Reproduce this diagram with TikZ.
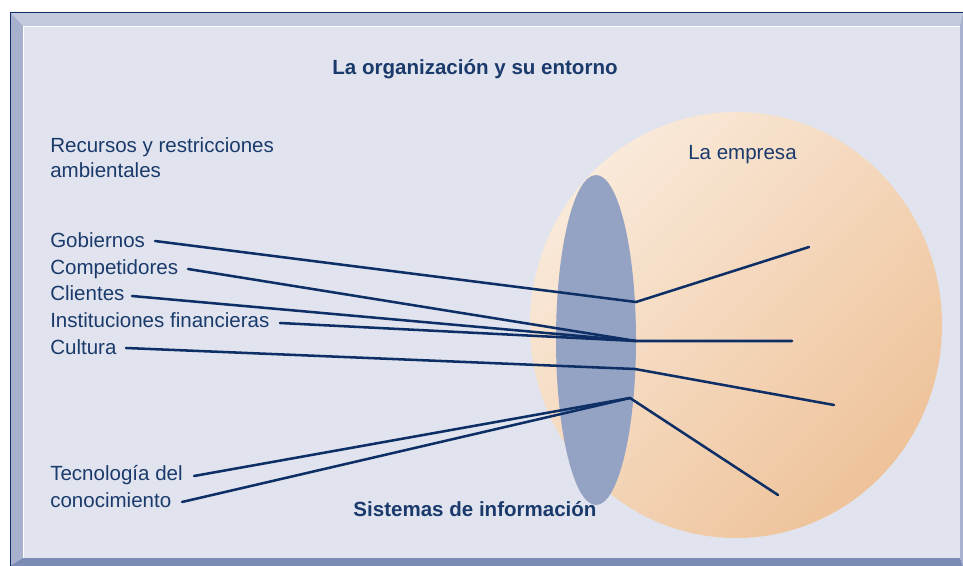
\documentclass[tikz,border=0pt]{standalone}
\usepackage{fontspec}
\setmainfont{Liberation Sans}
\usetikzlibrary{calc,shadings}
\definecolor{navy}{HTML}{0D2F66}
\definecolor{txt}{HTML}{1A3A6C}
\definecolor{inner}{HTML}{E1E4EE}
\definecolor{topband}{HTML}{C4CADD}
\definecolor{leftband}{HTML}{A7B0CC}
\definecolor{botband}{HTML}{7A8CB5}
\definecolor{sphlight}{HTML}{FCF2E7}
\definecolor{sphmid}{HTML}{F4D6BA}
\definecolor{sphdark}{HTML}{ECBA8C}
\definecolor{lens}{HTML}{94A3C3}
\tikzset{
  lbl/.style={anchor=base west,inner sep=0pt,text=txt,font=\fontsize{15.4}{18}\selectfont},
  ttl/.style={anchor=base,inner sep=0pt,text=txt,font=\fontsize{15.4}{18}\selectfont\bfseries},
  conn/.style={draw=navy,line width=1.9pt,line cap=round,line join=miter}
}
\begin{document}
\begin{tikzpicture}[x=0.75pt,y=-0.75pt]
\useasboundingbox (0,0) rectangle (963,566);
% frame
\fill[white] (0,0) rectangle (963,566);
\fill[inner] (10,12) rectangle (963,566);
\fill[topband] (10,12) -- (963,12) -- (960,26) -- (23,26) -- cycle;
\fill[leftband] (10,12) -- (23,26) -- (23,558) -- (10,566) -- cycle;
\fill[botband] (10,566) -- (23,558) -- (960,558) -- (963,566) -- cycle;
\fill[leftband] (963,12) -- (960,26) -- (960,558) -- (963,566) -- cycle;
\draw[white,line width=0.8pt] (23.5,558) -- (23.5,26.5) -- (960,26.5);
\draw[navy,line width=1.2pt] (10.5,566) -- (10.5,12.5) -- (963,12.5);
% sphere
\shade[upper left=sphlight,lower right=sphdark,upper right=sphmid,lower left=sphmid]
  (736,325) ellipse [x radius=206,y radius=213];
% lens
\fill[lens] (596,340) ellipse [x radius=40,y radius=165];
% texts
\node[ttl] (title) at (475,75) {La organización y su entorno};
\node[ttl] (sis) at (475,516) {Sistemas de información};
\node[lbl] (rec1) at (50,153) {Recursos y restricciones};
\node[lbl] (rec2) at (50,178) {ambientales};
\node[lbl] (emp) at (688,160) {La empresa};
\node[lbl] (gob) at (50,248) {Gobiernos};
\node[lbl] (com) at (50,275) {Competidores};
\node[lbl] (cli) at (50,301) {Clientes};
\node[lbl] (ins) at (50,328) {Instituciones financieras};
\node[lbl] (cul) at (50,354) {Cultura};
\node[lbl] (tec) at (50,480) {Tecnología del};
\node[lbl] (con) at (50,507) {conocimiento};
% connector points
\coordinate (sgob) at (155,241);
\coordinate (scom) at (188,269);
\coordinate (scli) at (132,296);
\coordinate (sins) at (280,323);
\coordinate (scul) at (126,348);
\coordinate (stec) at (194,476);
\coordinate (scon) at (182,502);
\coordinate (j1) at (636,302);
\coordinate (j2) at (636,341);
\coordinate (j3) at (635,369);
\coordinate (j4) at (630,398);
\coordinate (e1) at (809,247);
\coordinate (e2) at (792,341);
\coordinate (e3) at (834,405);
\coordinate (e4) at (778,495);
% connectors
\draw[conn] (sgob) -- (j1) -- (e1);
\draw[conn] (scom) -- (j2);
\draw[conn] (scli) -- (j2);
\draw[conn] (sins) -- (j2) -- (e2);
\draw[conn] (scul) -- (j3) -- (e3);
\draw[conn] (stec) -- (j4);
\draw[conn] (scon) -- (j4) -- (e4);
\end{tikzpicture}
\end{document}
